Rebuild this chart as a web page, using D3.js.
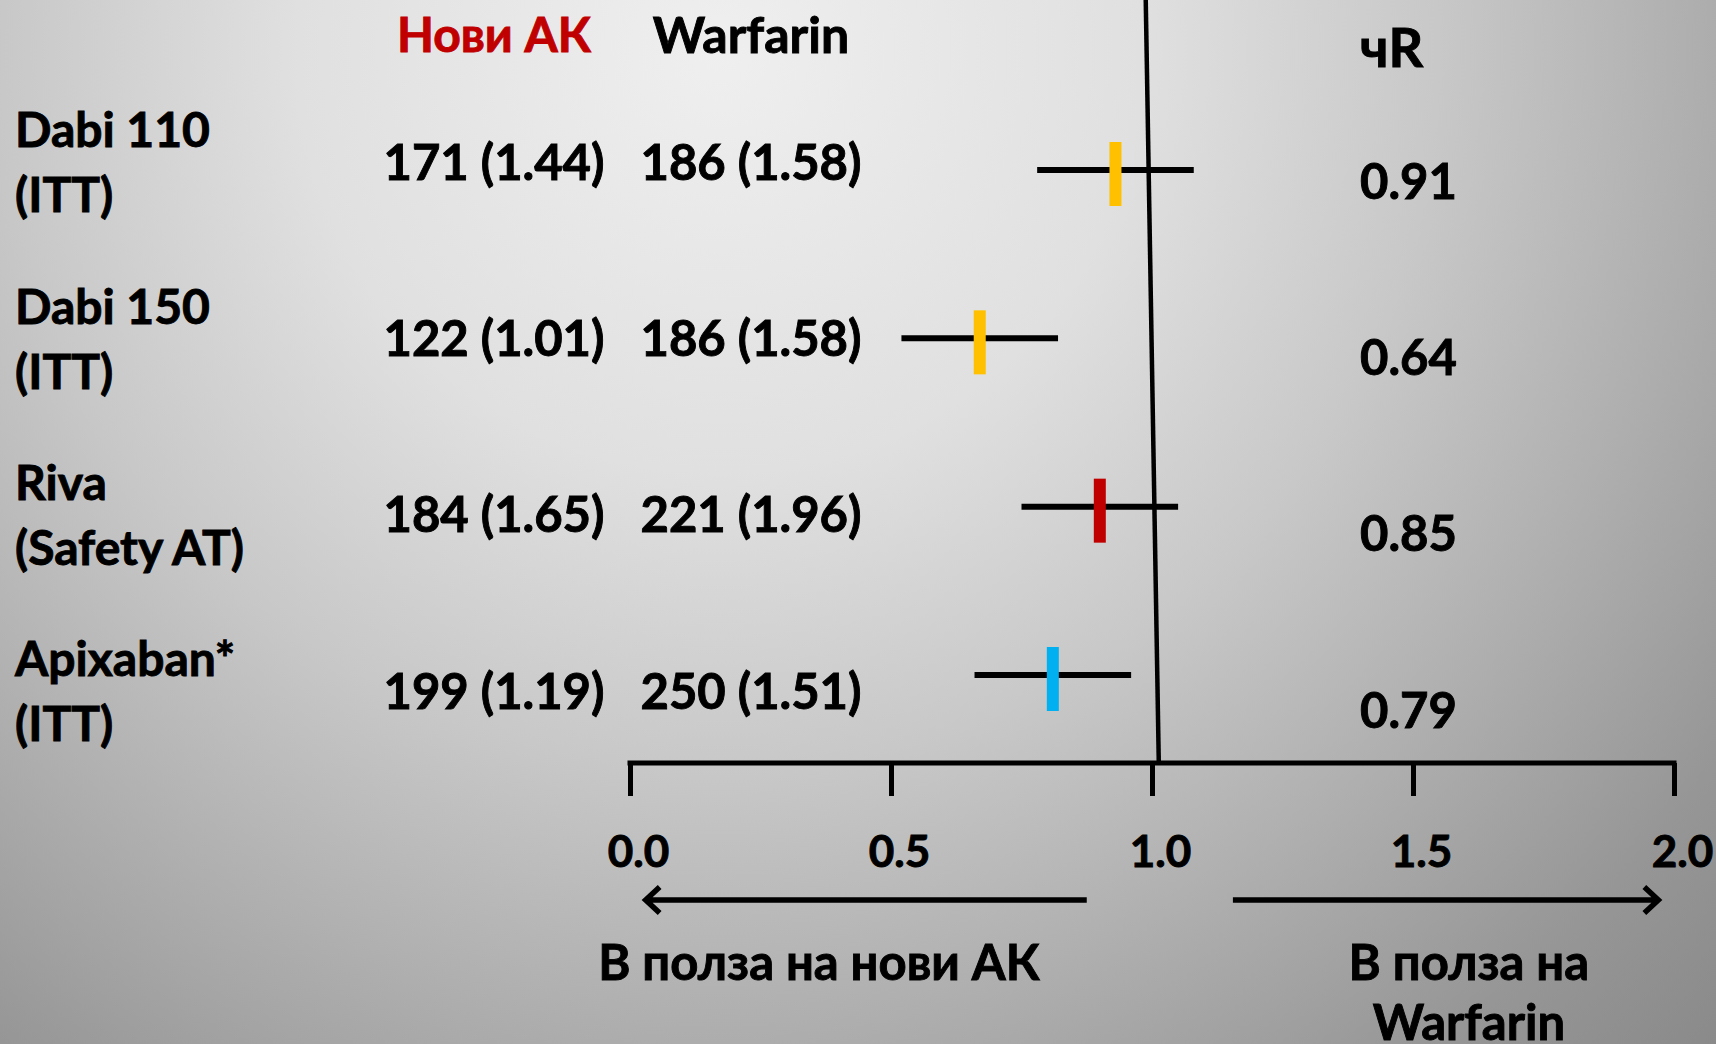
<!DOCTYPE html>
<html>
<head>
<meta charset="utf-8">
<script src="https://cdn.jsdelivr.net/npm/d3@7"></script>
<style>
  html, body { margin: 0; padding: 0; overflow: hidden; }
  svg { display: block; font-family: Lato, "Open Sans", sans-serif; font-weight: bold; }
  text { stroke-width: 0.9px; }
</style>
</head>
<body>
<div id="chart"></div>
<script>
// rows of the forest plot
const studies = ["Dabi 110", "Dabi 150", "Riva", "Apixaban*"];
const subgroups = ["(ITT)", "(ITT)", "(Safety AT)", "(ITT)"];
const newEvents = ["171 (1.44)", "122 (1.01)", "184 (1.65)", "199 (1.19)"];
const warfEvents = ["186 (1.58)", "186 (1.58)", "221 (1.96)", "250 (1.51)"];
const hrLabels = ["0.91", "0.64", "0.85", "0.79"];

// marks as drawn on the slide
const hrPoint = [0.93, 0.67, 0.90, 0.81];
const ciLow = [0.78, 0.52, 0.75, 0.66];
const ciHigh = [1.08, 0.82, 1.05, 0.96];

const xTicks = [0, 0.5, 1.0, 1.5, 2.0];

const width = 1716, height = 1044;
const axisY = 763;

const svg = d3.select("#chart").append("svg")
  .attr("width", width)
  .attr("height", height);

// grey slide background
const grad = svg.append("defs").append("radialGradient")
  .attr("id", "bg")
  .attr("gradientUnits", "userSpaceOnUse")
  .attr("cx", 720).attr("cy", 50).attr("r", 1407);
[[0, "#efefef"], [0.3, "#e0e0e0"], [0.51, "#c8c8c8"], [0.87, "#969696"], [1, "#8a8a8a"]]
  .forEach(s => grad.append("stop").attr("offset", s[0]).attr("stop-color", s[1]));
svg.append("rect").attr("width", width).attr("height", height).attr("fill", "url(#bg)");

const x = d3.scaleLinear().domain([0, 2]).range([630, 1674]);
const yRow = d3.scalePoint().domain(studies).range([162, 691]);
const yCI = d3.scalePoint().domain(studies).range([170, 675]);
const color = d3.scaleOrdinal().domain(studies).range(["#FFC000", "#FFC000", "#C00000", "#00B0F0"]);

const rows = studies.map((s, i) => ({
  name: s, sub: subgroups[i], nw: newEvents[i], wf: warfEvents[i],
  hr: hrLabels[i], pt: hrPoint[i], lo: ciLow[i], hi: ciHigh[i]
}));

function label(sel, size, fill) {
  return sel.attr("dy", "0.36em").attr("font-size", size)
    .attr("fill", fill || "#000").attr("stroke", fill || "#000");
}

// column headers
label(svg.append("text").attr("x", 494).attr("y", 35), 48, "#C00000")
  .attr("text-anchor", "middle").text("Нови АК");
label(svg.append("text").attr("x", 751).attr("y", 35), 50)
  .attr("text-anchor", "middle").text("Warfarin");
label(svg.append("text").attr("x", 1360).attr("y", 48), 54).text("чR");

// reference line at 1.0 (slightly slanted as in the slide)
svg.append("line")
  .attr("x1", x(0.988)).attr("y1", 0)
  .attr("x2", x(1.013)).attr("y2", axisY)
  .attr("stroke", "#000").attr("stroke-width", 4.5);

const g = svg.append("g").selectAll("g").data(rows).enter().append("g");

label(g.append("text").attr("x", 15).attr("y", d => yRow(d.name) - 32), 48).text(d => d.name);
label(g.append("text").attr("x", 15).attr("y", d => yRow(d.name) + 33), 48).text(d => d.sub);
label(g.append("text").attr("x", 494).attr("y", d => yRow(d.name)), 49)
  .attr("text-anchor", "middle").text(d => d.nw);
label(g.append("text").attr("x", 751).attr("y", d => yRow(d.name)), 49)
  .attr("text-anchor", "middle").text(d => d.wf);
label(g.append("text").attr("x", 1360).attr("y", d => yRow(d.name) + 19), 49).text(d => d.hr);

// confidence intervals
g.append("line")
  .attr("x1", d => x(d.lo)).attr("x2", d => x(d.hi))
  .attr("y1", d => yCI(d.name)).attr("y2", d => yCI(d.name))
  .attr("stroke", "#000").attr("stroke-width", 6);
g.append("rect")
  .attr("x", d => x(d.pt) - 6).attr("width", 12)
  .attr("y", d => yCI(d.name) - 28).attr("height", 64)
  .attr("fill", d => color(d.name));

// x axis
const axis = svg.append("g")
  .attr("transform", `translate(0,${axisY})`)
  .call(d3.axisBottom(x).tickValues(xTicks).tickFormat(d3.format(".1f"))
    .tickSizeInner(33).tickSizeOuter(0).tickPadding(40));
axis.select(".domain").attr("stroke", "#000").attr("stroke-width", 5)
  .attr("d", `M${x(0) - 2.5},0H${x(2) + 2.5}`);
axis.selectAll(".tick line").attr("stroke", "#000").attr("stroke-width", 5);
axis.selectAll(".tick text")
  .attr("fill", "#000").attr("stroke", "#000").attr("dx", 8)
  .attr("font-family", "Lato, sans-serif").attr("font-weight", "bold").attr("font-size", 44);

// direction arrows
const arrowY = 900;
const arrows = [[0.875, 0.03], [1.155, 1.97]];
svg.append("g").selectAll("path").data(arrows).enter().append("path")
  .attr("d", d => {
    const s = Math.sign(d[1] - d[0]);
    const tip = x(d[1]);
    return `M${x(d[0])},${arrowY}H${tip}M${tip - s * 14},${arrowY - 13}L${tip},${arrowY}L${tip - s * 14},${arrowY + 13}`;
  })
  .attr("fill", "none").attr("stroke", "#000").attr("stroke-width", 5.5);

label(svg.append("text").attr("x", x(0.362)).attr("y", 962), 49)
  .attr("text-anchor", "middle").text("В полза на нови АК");
label(svg.append("text").attr("x", x(1.607)).attr("y", 962), 49)
  .attr("text-anchor", "middle").text("В полза на");
label(svg.append("text").attr("x", x(1.607)).attr("y", 1022), 49)
  .attr("text-anchor", "middle").text("Warfarin");
</script>
</body>
</html>
